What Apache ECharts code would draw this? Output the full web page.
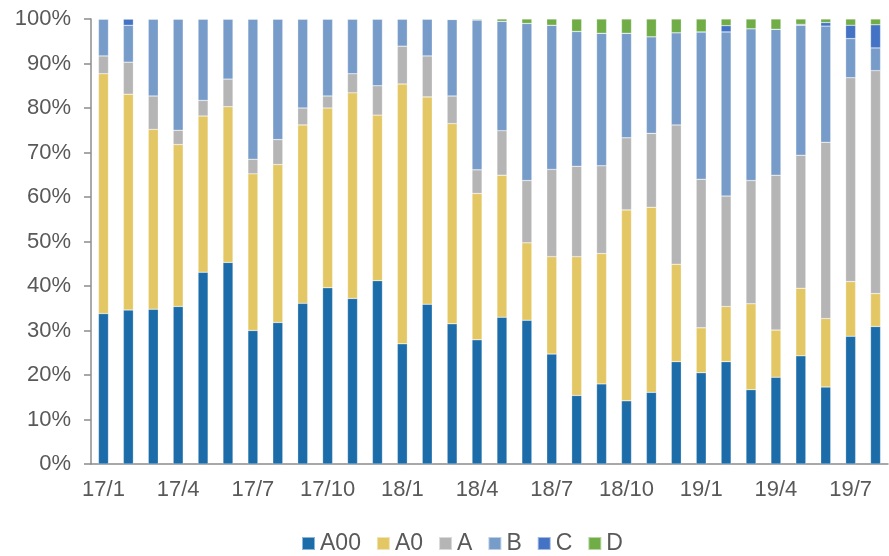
<!DOCTYPE html>
<html>
<head>
<meta charset="utf-8">
<script src="https://cdn.jsdelivr.net/npm/echarts@6/dist/echarts.min.js"></script>
<style>
  html, body { margin: 0; padding: 0; background: #fff; }
  #chart-container { width: 889px; height: 556px; }
</style>
</head>
<body>
<div id="chart-container"></div>
<script>
// months 17/1 .. 19/8
const months = [
  "17/1", "17/2", "17/3", "17/4", "17/5", "17/6", "17/7", "17/8", "17/9", "17/10", "17/11", "17/12",
  "18/1", "18/2", "18/3", "18/4", "18/5", "18/6", "18/7", "18/8", "18/9", "18/10", "18/11", "18/12",
  "19/1", "19/2", "19/3", "19/4", "19/5", "19/6", "19/7", "19/8"
];

// share of each class, in %
const a00 = [33.8, 34.6, 34.8, 35.4, 43.1, 45.3, 30.0, 31.8, 36.1, 39.6, 37.2, 41.2,
  27.0, 35.9, 31.5, 27.9, 33.0, 32.3, 24.7, 15.4, 18.0, 14.2, 16.1, 23.0,
  20.5, 23.0, 16.7, 19.5, 24.3, 17.3, 28.7, 30.9];
const a0 = [53.9, 48.5, 40.4, 36.4, 35.1, 35.0, 35.2, 35.5, 40.1, 40.4, 46.2, 37.2,
  58.4, 46.6, 45.0, 32.9, 31.9, 17.4, 21.9, 31.2, 29.3, 42.9, 41.6, 21.9,
  10.1, 12.4, 19.3, 10.6, 15.2, 15.4, 12.3, 7.4];
const a = [4.0, 7.2, 7.5, 3.2, 3.5, 6.2, 3.3, 5.6, 3.8, 2.7, 4.3, 6.6,
  8.5, 9.2, 6.2, 5.3, 10.0, 14.0, 19.6, 20.3, 19.7, 16.2, 16.6, 31.3,
  33.4, 24.8, 27.7, 34.8, 29.9, 39.6, 45.8, 50.1];
const b = [8.3, 8.3, 17.3, 25.0, 18.3, 13.5, 31.5, 27.1, 20.0, 17.3, 12.3, 15.0,
  6.1, 8.3, 17.2, 33.7, 24.6, 35.3, 32.4, 30.3, 29.8, 23.5, 21.7, 20.7,
  33.1, 36.9, 34.1, 32.8, 29.2, 26.1, 8.8, 5.1];
const c = [0, 1.4, 0, 0, 0, 0, 0, 0, 0, 0, 0, 0,
  0, 0, 0, 0, 0, 0, 0, 0, 0, 0, 0, 0,
  0, 1.4, 0, 0, 0.2, 0.8, 3.0, 5.2];
const d = [0, 0, 0, 0, 0, 0, 0, 0, 0, 0, 0, 0,
  0, 0, 0.1, 0.2, 0.5, 1.0, 1.4, 2.8, 3.2, 3.2, 4.0, 3.1,
  2.9, 1.5, 2.2, 2.3, 1.2, 0.8, 1.4, 1.3];

const seriesNames = ["A00", "A0", "A", "B", "C", "D"];
const seriesData = [a00, a0, a, b, c, d];
const colors = ["#1b6ca8", "#e4c765", "#b5b5b5", "#789cc9", "#4472c4", "#70ad47"];

const textColor = "#595959";
const fontFamily = "Liberation Sans, Arial, sans-serif";

const myChart = echarts.init(document.getElementById("chart-container"), null, {
  renderer: "canvas",
});

const option = {
  animation: false,
  color: colors,
  grid: {
    left: 91,
    right: 1,
    top: 19,
    bottom: 92,
  },
  legend: {
    bottom: -4,
    left: 296,
    icon: "rect",
    itemWidth: 13,
    itemHeight: 13,
    itemGap: 15,
    textStyle: { color: textColor, fontSize: 23, fontFamily: fontFamily },
    data: seriesNames,
  },
  xAxis: {
    type: "category",
    data: months,
    axisLine: { lineStyle: { color: "#8c8c8c", width: 1.5 } },
    axisTick: { interval: 2, length: 7, lineStyle: { color: "#8c8c8c", width: 1.5 } },
    axisLabel: {
      interval: 2,
      margin: 15,
      color: textColor,
      fontSize: 22,
      fontFamily: fontFamily,
    },
  },
  yAxis: {
    type: "value",
    min: 0,
    max: 100,
    interval: 10,
    splitLine: { show: false },
    axisLine: { show: true, lineStyle: { color: "#8c8c8c", width: 1.5 } },
    axisTick: { show: true, length: 7, lineStyle: { color: "#8c8c8c", width: 1.5 } },
    axisLabel: {
      formatter: "{value}%",
      margin: 20,
      color: textColor,
      fontSize: 22,
      fontFamily: fontFamily,
    },
  },
  series: seriesNames.map((name, i) => ({
    name: name,
    type: "bar",
    stack: "share",
    barWidth: 10,
    data: seriesData[i],
    itemStyle: {
      borderColor: "rgba(255,255,255,0.5)",
      borderWidth: 0.5,
    },
  })),
};

myChart.setOption(option);
</script>
</body>
</html>
